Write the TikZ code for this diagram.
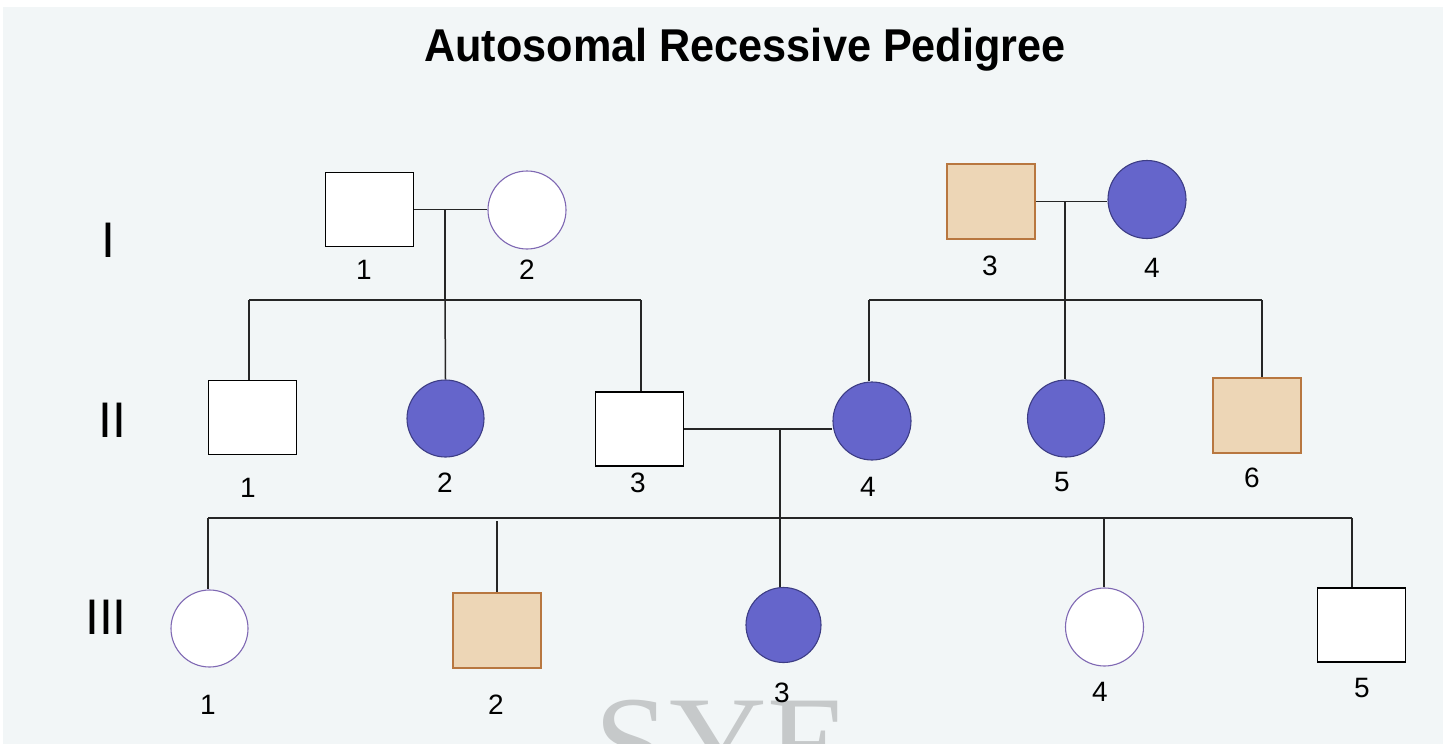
\documentclass[tikz,border=0pt]{standalone}
\usepackage{fontspec}
\setmainfont{Liberation Sans}
\newfontfamily\wmfont{Liberation Serif}
\definecolor{bgc}{HTML}{F2F6F7}
\definecolor{afffill}{HTML}{6565CB}
\definecolor{affdraw}{HTML}{3D3D85}
\definecolor{tanfill}{HTML}{EDD6B6}
\definecolor{tandraw}{HTML}{B87740}
\definecolor{purp}{HTML}{7F68B3}
\definecolor{wm}{HTML}{C6C9CA}
\begin{document}
\begin{tikzpicture}[x=1pt,y=-1pt,
  male/.style={rectangle,draw=black,line width=1.6pt,fill=white,minimum width=88pt,minimum height=74pt,inner sep=0pt},
  carrier/.style={rectangle,draw=tandraw,line width=1.6pt,fill=tanfill,minimum width=88pt,minimum height=75pt,inner sep=0pt},
  female/.style={circle,draw=purp,line width=1.1pt,fill=white,minimum size=78pt,inner sep=0pt},
  afff/.style={circle,draw=affdraw,line width=1.1pt,fill=afffill,minimum size=77pt,inner sep=0pt},
  lbl/.style={font=\fontsize{28}{30}\selectfont,inner sep=0pt},
  gen/.style={font=\fontsize{50}{52}\selectfont,inner sep=0pt},
  link/.style={draw=black!85,line width=1.5pt}]
\useasboundingbox (0,0) rectangle (1449,744);
\clip (0,0) rectangle (1449,744);
\fill[white] (0,0) rectangle (1449,744);
\fill[bgc] (3,7) rectangle (1443,744);
% watermark
\node[anchor=base,font=\wmfont\fontsize{135}{135}\selectfont,text=wm,inner sep=0pt] (wmk) at (722,789) {SYE};
% title
\node[font=\bfseries\fontsize{46}{48}\selectfont,xscale=0.94,inner sep=0pt] (title) at (745,50) {Autosomal Recessive Pedigree};
% generation labels
\node[gen] (gI) at (108,240) {I};
\node[gen] (gII) at (112,420) {II};
\node[gen] (gIII) at (106,617) {III};
% generation I
\node[male] (I1) at (369.5,209.5) {};
\node[female] (I2) at (527,210) {};
\node[carrier] (I3) at (991,201.5) {};
\node[afff,minimum size=78pt] (I4) at (1147,199.5) {};
% generation II
\node[male] (II1) at (252.5,417.5) {};
\node[afff] (II2) at (445.5,418.5) {};
\node[male] (II3) at (639.5,429) {};
\node[afff,minimum size=78pt] (II4) at (872,421) {};
\node[afff] (II5) at (1066,418.5) {};
\node[carrier] (II6) at (1257,415.5) {};
% generation III
\node[female,minimum size=77pt] (III1) at (209.5,628.5) {};
\node[carrier] (III2) at (497,630.5) {};
\node[afff,minimum size=75pt] (III3) at (783.5,625) {};
\node[female] (III4) at (1104.5,627) {};
\node[male] (III5) at (1361.5,625) {};
% labels
\node[lbl] (lI1) at (364,270) {1};
\node[lbl] (lI2) at (527,270) {2};
\node[lbl] (lI3) at (990,266) {3};
\node[lbl] (lI4) at (1152,268) {4};
\node[lbl] (lII1) at (248,488) {1};
\node[lbl] (lII2) at (445,483) {2};
\node[lbl] (lII3) at (638,483) {3};
\node[lbl] (lII4) at (868,487) {4};
\node[lbl] (lII5) at (1062,482) {5};
\node[lbl] (lII6) at (1252,478) {6};
\node[lbl] (lIII1) at (208,705) {1};
\node[lbl] (lIII2) at (496,705) {2};
\node[lbl] (lIII3) at (782,693) {3};
\node[lbl] (lIII4) at (1100,692) {4};
\node[lbl] (lIII5) at (1362,688) {5};
% coordinates
\coordinate (m1) at (445,209.5);
\coordinate (s1) at (445,300);
\coordinate (s1l) at (249,300);
\coordinate (s1r) at (641,300);
\coordinate (m2) at (1065,201.5);
\coordinate (s2) at (1065,300);
\coordinate (s2l) at (869,300);
\coordinate (s2r) at (1262,300);
\coordinate (m3) at (780,429);
\coordinate (s3) at (780,518);
\coordinate (s3l) at (208,518);
\coordinate (s3r) at (1352,518);
\coordinate (c32) at (497,521);
\coordinate (c34) at (1104,518);
% family 1
\draw[link] (I1.east) -- (I1.east -| I2.west);
\draw[link] (m1) -- (s1);
\draw[link] (s1l) -- (s1r);
\draw[link] (s1l) -- (s1l |- II1.north);
\draw[link] (s1) -- (II2.north);
\draw[link] (s1r) -- (s1r |- II3.north);
% family 2
\draw[link] (I3.east) -- (I3.east -| I4.west);
\draw[link] (m2) -- (s2);
\draw[link] (s2l) -- (s2r);
\draw[link] (s2l) -- (s2l |- II4.north);
\draw[link] (s2) -- (s2 |- II5.north);
\draw[link] (s2r) -- (s2r |- II6.north);
% family 3
\draw[link] (II3.east) -- (II3.east -| II4.west);
\draw[link] (m3) -- (s3);
\draw[link] (s3l) -- (s3r);
\draw[link] (s3l) -- (s3l |- III1.north);
\draw[link] (c32) -- (III2.north);
\draw[link] (s3) -- (s3 |- III3.north);
\draw[link] (c34) -- (c34 |- III4.north);
\draw[link] (s3r) -- (s3r |- III5.north);
\end{tikzpicture}
\end{document}
